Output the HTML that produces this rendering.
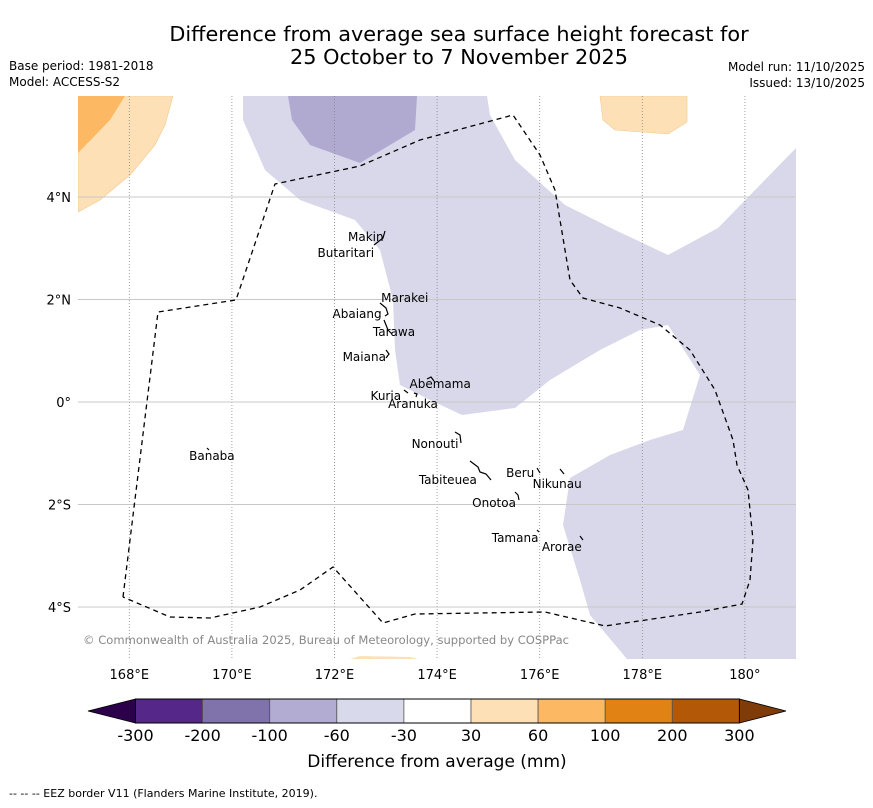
<!DOCTYPE html>
<html><head><meta charset="utf-8"><style>
body{margin:0;background:#fff;width:873px;height:804px;overflow:hidden;font-family:"DejaVu Sans","Liberation Sans",sans-serif}
svg text{font-family:"DejaVu Sans","Liberation Sans",sans-serif}
</style></head><body>
<svg id="chart" width="873" height="804">
<text x="459" y="41" font-size="20.8" text-anchor="middle">Difference from average sea surface height forecast for</text>
<text x="459" y="64" font-size="20.8" text-anchor="middle">25 October to 7 November 2025</text>
<text x="9" y="70" font-size="12">Base period: 1981-2018</text>
<text x="9" y="86" font-size="12">Model: ACCESS-S2</text>
<text x="865" y="71" font-size="12" text-anchor="end">Model run: 11/10/2025</text>
<text x="865" y="87" font-size="12" text-anchor="end">Issued: 13/10/2025</text>
<defs><clipPath id="mc"><rect x="78" y="96" width="718" height="563"/></clipPath></defs>
<g id="map" clip-path="url(#mc)">
<polygon fill="#d8d8ea" points="243,96 487,96 490,115 515,160 565,205 615,230 668,255 718,228 796,148 796,659 627,659 590,615 580,580 563,525 570,478 610,455 650,440 683,430 700,375 668,325 640,330 600,350 550,380 515,408 462,415 430,400 400,385 395,350 393,300 380,250 355,220 300,200 265,170 243,120"/>
<polygon fill="#b0aad0" points="288,96 417,96 415,130 360,163 310,145 292,120"/>
<polygon fill="#fde0b6" stroke="#f5c890" stroke-width="0.6" points="78,96 173,96 165,125 155,145 130,175 100,200 78,212"/>
<polygon fill="#fdb863" points="78,96 125,96 110,120 78,153"/>
<polygon fill="#fde0b6" stroke="#f5c890" stroke-width="0.6" points="600,96 687,96 687,122 668,134 615,130 603,120"/>
<polygon fill="#fde0b6" points="350,659 360,656 410,657 418,659"/>
</g>
<g id="grid"></g>
<polyline fill="none" stroke="#000" stroke-width="1.3" stroke-dasharray="5,4" points="123,597 158,312 236,300 275,184 360,166 420,140 513,115 540,155 555,190 570,280 583,298 620,308 660,325 690,350 715,390 733,440 737,465 748,490 753,540 750,580 742,604 700,612 605,626 545,612 415,614 383,623 333,567 300,590 260,607 210,618 170,617 123,597"/>
<g fill="none" stroke="#000" stroke-width="1.2">
<path d="M385,231 L383,238 L374,245"/><path d="M380,303 L386,308 L388,314 L385,316"/><path d="M384,320 L388,330 L392,334"/>
<path d="M386,350 L389,354 L386,358"/><path d="M427,379 L431,377 L434,381"/><path d="M404,390 L408,393"/><path d="M414,393 L417,394 L416,397"/>
<path d="M455,432 L460,435 L461,443"/><path d="M470,461 L478,467 L480,472 L486,474 L491,480"/><path d="M537,468 L540,473"/><path d="M560,469 L564,474"/>
<path d="M515,492 L518,495 L519,500"/><path d="M537,530 L539,532"/><path d="M580,536 L583,540"/><path d="M207,448 L209,450"/>
</g>
<g id="islands" font-size="12"></g>
<text x="83" y="644" font-size="11.6" fill="#888" textLength="486" lengthAdjust="spacingAndGlyphs">© Commonwealth of Australia 2025, Bureau of Meteorology, supported by COSPPac</text>
<g id="axes" font-size="13"></g>
<g id="cbar"></g>
<text x="437" y="767" font-size="17" text-anchor="middle">Difference from average (mm)</text>
<text x="9" y="797" font-size="11">--  --  -- EEZ border V11 (Flanders Marine Institute, 2019).</text>
</svg>
<script>
const lonTicks=[168,170,172,174,176,178,180];
const lonLabels=["168°E","170°E","172°E","174°E","176°E","178°E","180°"];
const latTicks=[4,2,0,-2,-4];
const latLabels=["4°N","2°N","0°","2°S","4°S"];
const islandNames=["Makin","Butaritari","Marakei","Abaiang","Tarawa","Maiana","Abemama","Kuria","Aranuka","Nonouti","Tabiteuea","Beru","Nikunau","Onotoa","Tamana","Arorae","Banaba"];
const islandLon=[172.61,172.22,173.37,172.44,173.16,172.58,174.06,173.0,173.53,173.96,174.21,175.62,176.34,175.11,175.52,176.43,169.61];
const islandLat=[3.22,2.91,2.03,1.72,1.37,0.88,0.35,0.12,-0.04,-0.82,-1.52,-1.39,-1.60,-1.97,-2.65,-2.83,-1.05];
const cbBounds=["-300","-200","-100","-60","-30","30","60","100","200","300"];
const cbColors=["#542788","#8073ac","#b2abd2","#d8daeb","#ffffff","#fee0b6","#fdb863","#e08214","#b35806"];
const NS="http://www.w3.org/2000/svg";
const xs=lon=>78+(lon-167)*51.3;
const ys=lat=>402-lat*51.25;
function mk(t,a,p){const e=document.createElementNS(NS,t);for(const k in a)e.setAttribute(k,a[k]);p.appendChild(e);return e;}
const grid=document.getElementById('grid'),axes=document.getElementById('axes');
lonTicks.forEach((v,i)=>{
 const l=mk('line',{x1:xs(v),x2:xs(v),y1:96,y2:659,stroke:'#888','stroke-width':0.8,'stroke-dasharray':'1,2'},grid);
 
 
 const t=mk('text',{x:xs(v),y:679,'text-anchor':'middle'},axes);t.textContent=lonLabels[i];
 
 
});
latTicks.forEach((v,i)=>{
 const l=mk('line',{x1:78,x2:796,y1:ys(v),y2:ys(v),stroke:'#c8c8c8','stroke-width':1},grid);
 
 
 const t=mk('text',{x:71,y:ys(v)+5,'text-anchor':'end'},axes);t.textContent=latLabels[i];
 
 
});
const isl=document.getElementById('islands');
islandNames.forEach((n,i)=>{
 const px=xs(islandLon[i]),py=ys(islandLat[i]);
 const t=mk('text',{x:px,y:py+4,'text-anchor':'middle'},isl);t.textContent=n;
 
 
});
const cb=document.getElementById('cbar');
const bx0=135.5,bw=67.1,btop=699,bh=24;
const lft=mk('polygon',{points:`88,${btop+bh/2} ${bx0},${btop} ${bx0},${btop+bh}`,fill:'#2d004b',stroke:'#000','stroke-width':0.8},cb);


const bxe=bx0+bw*cbColors.length;
const rgt=mk('polygon',{points:`${bxe},${btop} 786,${btop+bh/2} ${bxe},${btop+bh}`,fill:'#7f3b08',stroke:'#000','stroke-width':0.8},cb);


cbColors.forEach((c,i)=>{
 const r=mk('rect',{x:bx0+i*bw,y:btop,width:bw,height:bh,fill:c,stroke:'#555','stroke-width':0.8},cb);
 
 
});
mk('rect',{x:bx0,y:btop,width:bw*cbColors.length,height:bh,fill:'none',stroke:'#000','stroke-width':1},cb);
cbBounds.forEach((b,i)=>{
 const t=mk('text',{x:bx0+i*bw,y:741,'text-anchor':'middle','font-size':16},cb);t.textContent=b;
 
 
});
</script>
</body></html>
